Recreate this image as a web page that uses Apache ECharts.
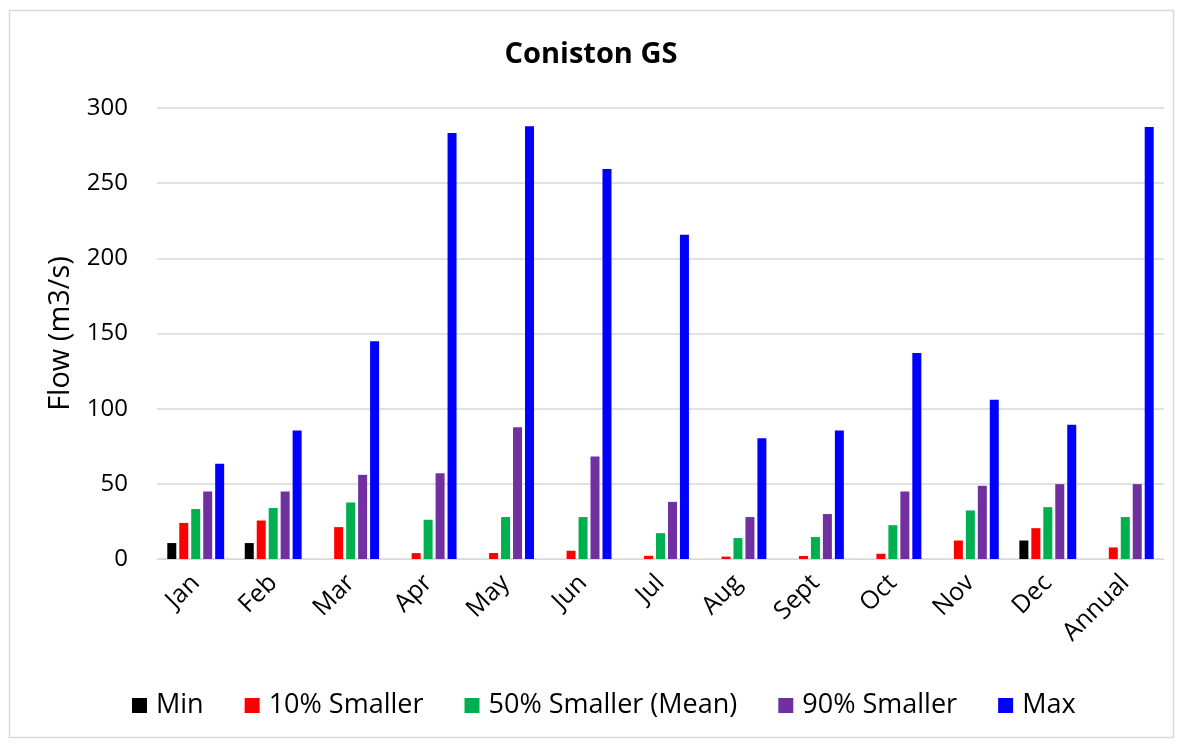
<!DOCTYPE html>
<html>
<head>
<meta charset="utf-8">
<script src="https://cdn.jsdelivr.net/npm/echarts@6/dist/echarts.min.js"></script>
<style>
html,body{margin:0;padding:0;background:#fff;}
#chart{width:1182px;height:744px;}
</style>
</head>
<body>
<div id="chart"></div>
<script>
const categories = ['Jan','Feb','Mar','Apr','May','Jun','Jul','Aug','Sept','Oct','Nov','Dec','Annual'];
const seriesNames = ['Min','10% Smaller','50% Smaller (Mean)','90% Smaller','Max'];
const minFlow = [10.6, 10.6, null, null, null, null, null, null, null, null, null, 12.3, null];
const p10Flow = [24, 25.6, 21.2, 3.9, 4, 5.5, 2.1, 1.6, 2, 3.5, 12.3, 20.5, 7.7];
const p50Flow = [33.2, 33.9, 37.6, 26.1, 27.9, 27.9, 17.2, 13.9, 14.6, 22.5, 32.3, 34.5, 27.9];
const p90Flow = [44.9, 44.9, 56, 57.1, 87.7, 68.2, 38, 27.9, 29.9, 44.9, 48.7, 49.8, 49.8];
const maxFlow = [63.3, 85.5, 144.9, 283.4, 287.8, 259.4, 215.7, 80.4, 85.5, 137, 106, 89.3, 287.4];
const colors = ['#000000','#ff0000','#00b050','#7030a0','#0000ff'];
const yTicks = {min: 0, max: 300, interval: 50};

const dataSets = [minFlow, p10Flow, p50Flow, p90Flow, maxFlow];
const font = 'Open Sans';
const chart = echarts.init(document.getElementById('chart'), null, {renderer: 'canvas'});
chart.setOption({
  backgroundColor: '#ffffff',
  animation: false,
  color: colors,
  graphic: [{
    type: 'rect', left: 7, top: 8, silent: true,
    shape: {width: 1164, height: 727},
    style: {fill: 'none', stroke: '#d9d9d9', lineWidth: 1.5}
  }],
  title: {
    text: 'Coniston GS', left: 'center', top: 35,
    textStyle: {fontFamily: font, fontWeight: 'bold', fontSize: 29, color: '#000'}
  },
  legend: {
    data: seriesNames, top: 687, left: 127,
    itemWidth: 15, itemHeight: 15, itemGap: 41,
    icon: 'rect',
    textStyle: {fontFamily: font, fontSize: 27, color: '#000', padding: [0,0,0,4]}
  },
  grid: {left: 157, right: 18, top: 108, bottom: 185},
  xAxis: {
    type: 'category', data: categories,
    axisLine: {show: true, lineStyle: {color: '#d9d9d9', width: 1}},
    axisTick: {show: false},
    axisLabel: {rotate: 45, fontFamily: font, fontSize: 25, color: '#000', margin: 20, interval: 0}
  },
  yAxis: {
    type: 'value', min: yTicks.min, max: yTicks.max, interval: yTicks.interval,
    name: 'Flow (m3/s)', nameLocation: 'middle', nameGap: 82, nameRotate: 90,
    nameTextStyle: {fontFamily: font, fontSize: 29, color: '#000'},
    axisLine: {show: false}, axisTick: {show: false},
    axisLabel: {fontFamily: font, fontSize: 24, color: '#000', margin: 29},
    splitLine: {lineStyle: {color: '#d9d9d9', width: 1.5}}
  },
  series: seriesNames.map((n, i) => ({
    name: n, type: 'bar', data: dataSets[i],
    barWidth: 9, barGap: '33%',
    itemStyle: {color: colors[i]}
  }))
});
</script>
</body>
</html>
